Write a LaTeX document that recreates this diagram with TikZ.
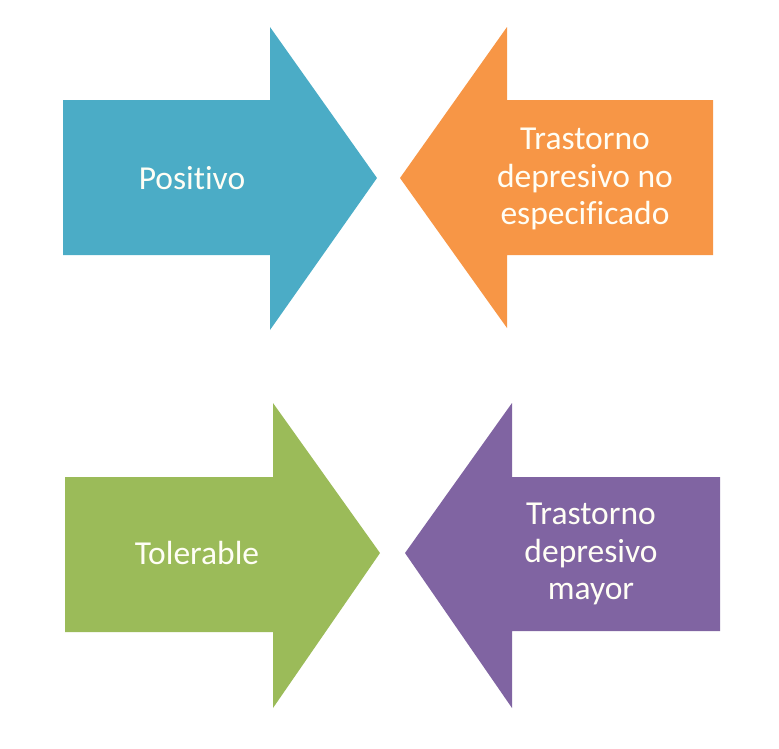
\documentclass[tikz,border=0pt]{standalone}
\usepackage{fontspec}
\setmainfont[Ligatures=NoCommon]{Carlito}
\definecolor{cblue}{HTML}{4BACC6}
\definecolor{corange}{HTML}{F79646}
\definecolor{cgreen}{HTML}{9BBB59}
\definecolor{cpurple}{HTML}{8064A2}
\tikzset{
  lbl/.style={text=white!96!yellow, align=center, font=\fontsize{33.5}{37.5}\selectfont, inner sep=0pt}
}
\begin{document}
\begin{tikzpicture}[x=1pt,y=-1pt]
\useasboundingbox (0,0) rectangle (779,748);
% top-left blue arrow (right)
\fill[cblue] (63,100) -- (270,100) -- (270,27) -- (377,178) -- (270,330) -- (270,255) -- (63,255) -- cycle;
% top-right orange arrow (left)
\fill[corange] (713,100) -- (507,100) -- (507,27) -- (400,178) -- (507,328) -- (507,255) -- (713,255) -- cycle;
% bottom-left green arrow (right)
\fill[cgreen] (65,477) -- (273,477) -- (273,403) -- (380,553) -- (273,708) -- (273,632) -- (65,632) -- cycle;
% bottom-right purple arrow (left)
\fill[cpurple] (720,477) -- (512,477) -- (512,403) -- (405,553) -- (512,708) -- (512,631) -- (720,631) -- cycle;
\node[lbl] (pos) at (192,178) {Positivo};
\node[lbl] (tdn) at (585,179) {Trastorno\\depresivo no\\especificado};
\node[lbl] (tol) at (197,553) {Tolerable};
\node[lbl] (tdm) at (591,554) {Trastorno\\depresivo\\mayor};
\end{tikzpicture}
\end{document}
